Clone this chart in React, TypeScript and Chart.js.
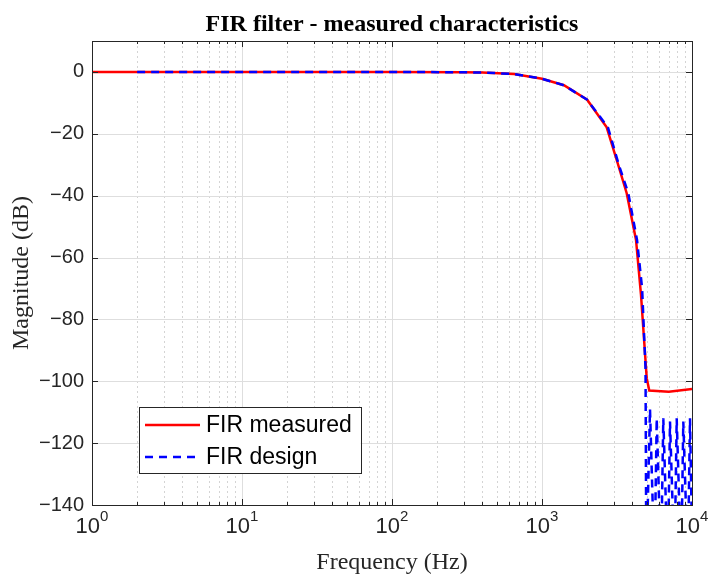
import React, { useEffect, useRef } from 'react';
import { Chart, registerables } from 'chart.js';

Chart.register(...registerables);

// ---- data ----
const measuredFreq = [1, 100, 300, 400, 650, 1000, 1400, 2000, 2700, 3200, 3670, 4235, 4570, 4990, 5190, 7000, 10000];
const measuredMag = [0, 0, -0.1, -0.2, -0.65, -2.2, -4.3, -9.0, -17.9, -29.6, -39.2, -54.3, -72, -99, -103, -103.4, -102.5];

const designFreq = [2, 100, 300, 400, 650, 1000, 1400, 2000, 2750, 3250, 3760, 4300, 4650, 4900, 4960, 5248, 5623, 5818, 6214, 6437, 6897, 7134, 7645, 7907, 8472, 8750, 9376, 9698, 10000];
const designMag = [0, 0, -0.1, -0.2, -0.65, -2.2, -4.3, -9.0, -17.9, -30, -39.2, -54.3, -70, -96, -160, -109, -160, -112, -160, -112, -160, -113, -160, -112, -160, -113, -160, -112, -150];

const xTickValues = [1, 10, 100, 1000, 10000];
const xTickExponents = ['0', '1', '2', '3', '4'];
const xMinorMultipliers = [2, 3, 4, 5, 6, 7, 8, 9];
const yTickValues = [-140, -120, -100, -80, -60, -40, -20, 0];

const seriesLabels = ['FIR measured', 'FIR design'];

const SANS = "'Liberation Sans', Arial, Helvetica, sans-serif";
const SERIF = "'Liberation Serif', 'Times New Roman', Times, serif";
const AXIS_COLOR = '#262626';

const matlabPlugin = {
  id: 'matlabAxes',
  beforeDatasetsDraw(chart: any) {
    const { ctx, chartArea: a, scales } = chart;
    const x = scales.x;
    const y = scales.y;
    ctx.save();
    ctx.beginPath();
    ctx.rect(a.left, a.top, a.right - a.left, a.bottom - a.top);
    ctx.clip();
    ctx.lineWidth = 1;
    // minor x grid (dotted)
    ctx.strokeStyle = '#d4d4d4';
    ctx.setLineDash([2, 3]);
    for (let i = 0; i < xTickValues.length - 1; i++) {
      for (const m of xMinorMultipliers) {
        const px = Math.round(x.getPixelForValue(m * xTickValues[i])) + 0.5;
        ctx.beginPath();
        ctx.moveTo(px, a.top);
        ctx.lineTo(px, a.bottom);
        ctx.stroke();
      }
    }
    // major grid
    ctx.setLineDash([]);
    ctx.strokeStyle = '#dedede';
    for (const v of xTickValues) {
      const px = Math.round(x.getPixelForValue(v)) + 0.5;
      ctx.beginPath();
      ctx.moveTo(px, a.top);
      ctx.lineTo(px, a.bottom);
      ctx.stroke();
    }
    for (const v of yTickValues) {
      const py = Math.round(y.getPixelForValue(v)) + 0.5;
      ctx.beginPath();
      ctx.moveTo(a.left, py);
      ctx.lineTo(a.right, py);
      ctx.stroke();
    }
    ctx.restore();
  },
  afterDatasetsDraw(chart: any) {
    const { ctx, chartArea: a, scales } = chart;
    const x = scales.x;
    const y = scales.y;
    ctx.save();
    ctx.lineWidth = 1;
    ctx.strokeStyle = AXIS_COLOR;
    ctx.setLineDash([]);
    // tick marks (inward)
    const tick = (x1: number, y1: number, x2: number, y2: number) => {
      ctx.beginPath();
      ctx.moveTo(x1, y1);
      ctx.lineTo(x2, y2);
      ctx.stroke();
    };
    for (let i = 0; i < xTickValues.length; i++) {
      const px = Math.round(x.getPixelForValue(xTickValues[i])) + 0.5;
      tick(px, a.bottom, px, a.bottom - 6);
      tick(px, a.top, px, a.top + 6);
      if (i < xTickValues.length - 1) {
        for (const m of xMinorMultipliers) {
          const mx = Math.round(x.getPixelForValue(m * xTickValues[i])) + 0.5;
          tick(mx, a.bottom, mx, a.bottom - 3);
          tick(mx, a.top, mx, a.top + 3);
        }
      }
    }
    for (const v of yTickValues) {
      const py = Math.round(y.getPixelForValue(v)) + 0.5;
      tick(a.left, py, a.left + 6, py);
      tick(a.right, py, a.right - 6, py);
    }
    // box
    ctx.strokeRect(Math.round(a.left) + 0.5, Math.round(a.top) + 0.5, Math.round(a.right - a.left), Math.round(a.bottom - a.top));

    // legend
    const ds = chart.data.datasets;
    ctx.font = `23px ${SANS}`;
    let maxW = 0;
    for (const d of ds) maxW = Math.max(maxW, ctx.measureText(d.label).width);
    const lx = a.left + 47;
    const ly = a.top + 366;
    const lw = 67 + maxW + 9;
    const lh = 66;
    ctx.fillStyle = '#ffffff';
    ctx.fillRect(lx, ly, lw, lh);
    ctx.strokeStyle = AXIS_COLOR;
    ctx.lineWidth = 1;
    ctx.strokeRect(Math.round(lx) + 0.5, Math.round(ly) + 0.5, Math.round(lw), lh);
    ds.forEach((d: any, i: number) => {
      const ry = ly + 18 + i * 32;
      ctx.beginPath();
      ctx.strokeStyle = d.borderColor;
      ctx.lineWidth = d.borderWidth;
      ctx.setLineDash(d.borderDash || []);
      ctx.moveTo(lx + 6, ry);
      ctx.lineTo(lx + 61, ry);
      ctx.stroke();
      ctx.setLineDash([]);
      ctx.fillStyle = '#000000';
      ctx.textAlign = 'left';
      ctx.textBaseline = 'middle';
      ctx.fillText(d.label, lx + 67, ry + 1);
    });
    ctx.restore();
  },
  afterDraw(chart: any) {
    const { ctx, chartArea: a, scales } = chart;
    const x = scales.x;
    ctx.save();
    // x tick labels with superscript exponents
    ctx.fillStyle = AXIS_COLOR;
    ctx.textBaseline = 'alphabetic';
    ctx.textAlign = 'left';
    xTickValues.forEach((v, i) => {
      const px = x.getPixelForValue(v);
      ctx.font = `22px ${SANS}`;
      const wb = ctx.measureText('10').width;
      ctx.font = `15px ${SANS}`;
      const we = ctx.measureText(xTickExponents[i]).width;
      const start = px - (wb + we) / 2;
      ctx.font = `22px ${SANS}`;
      ctx.fillText('10', start, a.bottom + 28);
      ctx.font = `15px ${SANS}`;
      ctx.fillText(xTickExponents[i], start + wb, a.bottom + 16);
    });
    // title
    ctx.fillStyle = '#000000';
    ctx.textAlign = 'center';
    ctx.font = `bold 24px ${SERIF}`;
    ctx.fillText('FIR filter - measured characteristics', (a.left + a.right) / 2, 31);
    ctx.restore();
  },
};

export default function App() {
  const canvasRef = useRef<HTMLCanvasElement | null>(null);

  useEffect(() => {
    document.body.style.margin = '0';
    const canvas = canvasRef.current;
    if (!canvas) return;
    const chart = new Chart(canvas, {
      type: 'line',
      data: {
        datasets: [
          {
            label: seriesLabels[0],
            data: measuredFreq.map((f, i) => ({ x: f, y: measuredMag[i] })),
            borderColor: '#ff0000',
            backgroundColor: '#ff0000',
            borderWidth: 2.5,
            pointRadius: 0,
            fill: false,
            tension: 0,
            order: 1,
            clip: 0,
          },
          {
            label: seriesLabels[1],
            data: designFreq.map((f, i) => ({ x: f, y: designMag[i] })),
            borderColor: '#0000ff',
            backgroundColor: '#0000ff',
            borderWidth: 2.5,
            borderDash: [8, 6],
            pointRadius: 0,
            fill: false,
            tension: 0,
            order: 0,
            clip: 0,
          },
        ],
      },
      options: {
        responsive: false,
        maintainAspectRatio: false,
        animation: false,
        devicePixelRatio: 1,
        layout: { padding: { top: 41, right: 17, left: 0, bottom: 0 } },
        plugins: {
          legend: { display: false },
          title: { display: false },
          tooltip: { enabled: false },
        },
        events: [],
        scales: {
          x: {
            type: 'logarithmic',
            min: 1,
            max: 10000,
            grid: { display: false, drawTicks: false },
            border: { display: false },
            ticks: { display: false },
            title: {
              display: true,
              text: 'Frequency (Hz)',
              color: AXIS_COLOR,
              font: { family: SERIF, size: 24, weight: 'normal' },
              padding: { top: 0, bottom: 0 },
            },
            afterFit: (s: any) => {
              s.height = 72;
            },
          },
          y: {
            type: 'linear',
            min: -140,
            max: 10,
            afterBuildTicks: (axis: any) => {
              axis.ticks = yTickValues.map((v) => ({ value: v }));
            },
            grid: { display: false, drawTicks: false },
            border: { display: false },
            ticks: {
              autoSkip: false,
              padding: 8,
              color: AXIS_COLOR,
              font: { family: SANS, size: 20 },
              callback: (v: any) => (Number(v) < 0 ? '\u2212' + Math.abs(Number(v)) : String(v)),
            },
            title: {
              display: true,
              text: 'Magnitude (dB)',
              color: AXIS_COLOR,
              font: { family: SERIF, size: 24, weight: 'normal' },
              padding: { top: 7, bottom: 0 },
            },
            afterFit: (s: any) => {
              s.width = 92;
            },
          },
        },
      } as any,
      plugins: [matlabPlugin],
    });
    return () => chart.destroy();
  }, []);

  return (
    <div style={{ width: 709, height: 577 }}>
      <canvas ref={canvasRef} width={709} height={577} style={{ display: 'block' }} />
    </div>
  );
}
